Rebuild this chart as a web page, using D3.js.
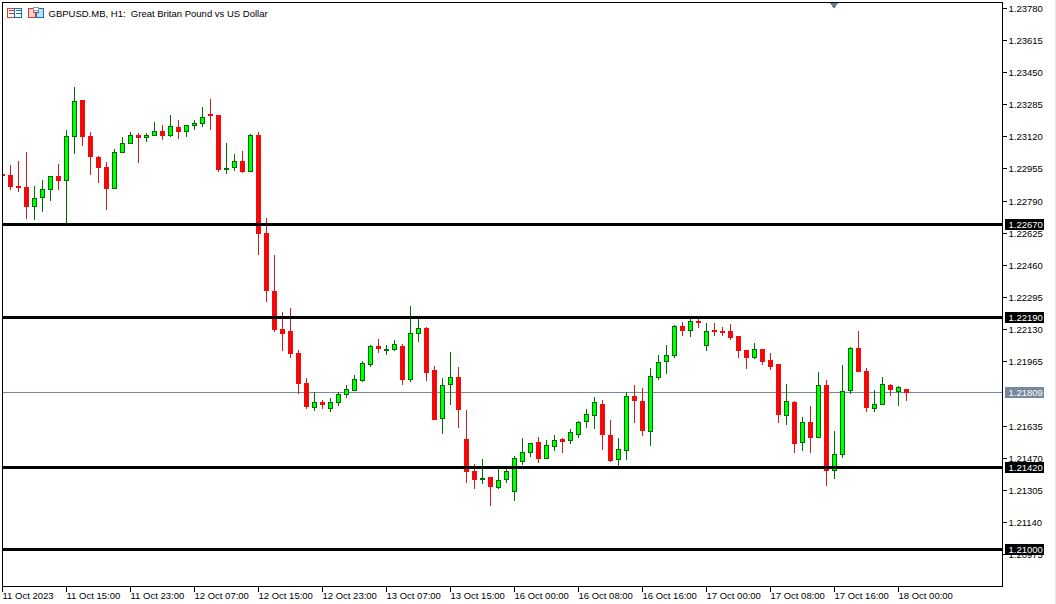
<!DOCTYPE html>
<html><head><meta charset="utf-8">
<script src="https://cdn.jsdelivr.net/npm/d3@7"></script>
<style>
html,body{margin:0;padding:0;background:#fff;overflow:hidden}
svg{display:block}
text{font-family:"Liberation Sans",Arial,sans-serif;font-size:9.5px;fill:#000;white-space:pre}
</style></head><body>
<svg id="c" width="1056" height="604"></svg>
<script>
const title = "GBPUSD.MB, H1:  Great Britan Pound vs US Dollar";
const opens = [1.22927,1.22923,1.22865,1.22861,1.22760,1.22806,1.22848,1.22916,1.22894,1.23120,1.23308,1.23123,1.23014,1.22962,1.22856,1.23037,1.23084,1.23128,1.23114,1.23127,
1.23147,1.23125,1.23168,1.23145,1.23178,1.23186,1.23234,1.23231,1.22950,1.22962,1.22993,1.22940,1.23127,1.22625,1.22328,1.22131,1.22121,1.22008,1.21854,1.21729,
1.21758,1.21724,1.21754,1.21795,1.21816,1.21871,1.21949,1.22045,1.22026,1.22026,1.22044,1.21872,1.22108,1.22138,1.21922,1.21672,1.21847,1.21885,1.21567,1.21402,
1.21359,1.21372,1.21318,1.21359,1.21298,1.21452,1.21498,1.21551,1.21467,1.21529,1.21567,1.21559,1.21590,1.21657,1.21688,1.21746,1.21587,1.21462,1.21508,1.21787,
1.21762,1.21606,1.21883,1.21965,1.21996,1.22146,1.22124,1.22172,1.22047,1.22126,1.22121,1.22121,1.22095,1.22023,1.21985,1.22028,1.21972,1.21951,1.21688,1.21756,
1.21549,1.21654,1.21575,1.21844,1.21405,1.21488,1.21816,1.22034,1.21916,1.21724,1.21744,1.21845,1.21811,1.21823];
const highs = [1.22928,1.22974,1.22995,1.23041,1.22866,1.22897,1.22918,1.22979,1.23154,1.23375,1.23308,1.23140,1.23020,1.22988,1.23056,1.23118,1.23144,1.23138,1.23138,1.23195,
1.23180,1.23231,1.23205,1.23178,1.23205,1.23272,1.23313,1.23231,1.23086,1.23031,1.23046,1.23132,1.23144,1.22702,1.22512,1.22220,1.22240,1.22025,1.21881,1.21806,
1.21768,1.21779,1.21806,1.21844,1.21897,1.21967,1.22051,1.22081,1.22051,1.22076,1.22054,1.22251,1.22189,1.22143,1.21943,1.21881,1.22015,1.21938,1.21717,1.21440,
1.21465,1.21372,1.21418,1.21419,1.21481,1.21573,1.21546,1.21578,1.21563,1.21589,1.21573,1.21619,1.21660,1.21722,1.21784,1.21768,1.21666,1.21573,1.21808,1.21845,
1.21830,1.21931,1.21999,1.22051,1.22153,1.22169,1.22189,1.22189,1.22163,1.22163,1.22143,1.22158,1.22095,1.22023,1.22061,1.22028,1.22009,1.21951,1.21850,1.21763,
1.21681,1.21737,1.21912,1.21871,1.21609,1.21948,1.22040,1.22122,1.21931,1.21820,1.21886,1.21850,1.21840,1.21823];
const lows = [1.22923,1.22846,1.22832,1.22697,1.22692,1.22729,1.22790,1.22846,1.22671,1.23031,1.23072,1.22923,1.22882,1.22743,1.22851,1.23037,1.23084,1.22985,1.23092,1.23127,
1.23099,1.23114,1.23104,1.23118,1.23150,1.23169,1.23150,1.22935,1.22924,1.22940,1.22930,1.22935,1.22512,1.22271,1.22114,1.22020,1.21984,1.21799,1.21722,1.21712,
1.21722,1.21707,1.21737,1.21779,1.21816,1.21861,1.21938,1.22009,1.21999,1.22016,1.21845,1.21861,1.22066,1.21866,1.21666,1.21594,1.21743,1.21625,1.21342,1.21312,
1.21337,1.21224,1.21312,1.21342,1.21250,1.21435,1.21476,1.21445,1.21467,1.21507,1.21496,1.21542,1.21573,1.21625,1.21619,1.21512,1.21450,1.21430,1.21460,1.21650,
1.21583,1.21532,1.21871,1.21902,1.21984,1.22097,1.22092,1.22138,1.22020,1.22097,1.22097,1.22076,1.21984,1.21927,1.21979,1.21948,1.21922,1.21650,1.21640,1.21496,
1.21507,1.21496,1.21575,1.21327,1.21363,1.21471,1.21799,1.21913,1.21707,1.21707,1.21744,1.21789,1.21737,1.21763];
const closes = [1.22924,1.22863,1.22863,1.22760,1.22803,1.22850,1.22916,1.22894,1.23122,1.23301,1.23120,1.23017,1.22960,1.22853,1.23039,1.23086,1.23127,1.23114,1.23127,1.23147,
1.23125,1.23173,1.23145,1.23178,1.23188,1.23219,1.23232,1.22950,1.22957,1.22993,1.22940,1.23127,1.22622,1.22329,1.22129,1.22112,1.22009,1.21852,1.21734,1.21756,
1.21744,1.21756,1.21798,1.21823,1.21874,1.21957,1.22044,1.22032,1.22028,1.22054,1.21872,1.22111,1.22136,1.21908,1.21671,1.21844,1.21885,1.21718,1.21400,1.21359,
1.21366,1.21323,1.21356,1.21402,1.21469,1.21500,1.21546,1.21467,1.21536,1.21561,1.21558,1.21602,1.21654,1.21695,1.21756,1.21594,1.21460,1.21515,1.21787,1.21765,
1.21611,1.21890,1.21962,1.21998,1.22146,1.22127,1.22172,1.22167,1.22121,1.22122,1.22114,1.22088,1.22021,1.21985,1.22028,1.21965,1.21939,1.21693,1.21762,1.21544,
1.21654,1.21575,1.21844,1.21405,1.21490,1.21813,1.22034,1.21913,1.21729,1.21746,1.21849,1.21825,1.21833,1.21809];
const priceTicks = [1.23780,1.23615,1.23450,1.23285,1.23120,1.22955,1.22790,1.22625,1.22460,1.22295,1.22130,1.21965,1.21635,1.21470,1.21305,1.21140,1.20975];
const levels = [1.22670,1.22190,1.21420,1.21000];
const lastPrice = 1.21809;
const timeLabels = ["11 Oct 2023","11 Oct 15:00","11 Oct 23:00","12 Oct 07:00","12 Oct 15:00","12 Oct 23:00","13 Oct 07:00","13 Oct 15:00","16 Oct 00:00","16 Oct 08:00","16 Oct 16:00","17 Oct 00:00","17 Oct 08:00","17 Oct 16:00","18 Oct 00:00"];
const timeTickEvery = 8;

const W = 1002, H = 586;
const svg = d3.select("#c").attr("shape-rendering","crispEdges");
const x = d3.scaleLinear().domain([0,113]).range([2.5,906.5]);
const yRaw = d3.scaleLinear().domain([1.23780,1.20975]).range([8,554.55]);
const y = v => Math.floor(yRaw(v)+0.15);

svg.append("clipPath").attr("id","plot").append("rect").attr("x",3).attr("y",3).attr("width",W-3).attr("height",H-3);
const plot = svg.append("g").attr("clip-path","url(#plot)");

// last price line (behind candles)
plot.append("line").attr("x1",3).attr("x2",W).attr("y1",y(lastPrice)+.5).attr("y2",y(lastPrice)+.5).attr("stroke","#778899");

const data = opens.map((o,i)=>({i,o,h:highs[i],l:lows[i],c:closes[i],up:closes[i]>opens[i]}));
const GREEN="#006e00", LIME="#00ff00", RED="#c81e1e", FILL="#f50808";
const cand = plot.selectAll("g.c").data(data).join("g").attr("class","c");
cand.append("line")
  .attr("x1",d=>x(d.i)).attr("x2",d=>x(d.i))
  .attr("y1",d=>y(d.h)).attr("y2",d=>y(d.l))
  .attr("stroke",d=>d.up?GREEN:RED);
cand.append("rect")
  .attr("x",d=>x(d.i)-2)
  .attr("width",4)
  .attr("y",d=>Math.min(y(d.o),y(d.c))+.5)
  .attr("height",d=>Math.max(1,Math.abs(y(d.o)-y(d.c))))
  .attr("fill",d=>d.up?LIME:FILL)
  .attr("stroke",d=>d.up?GREEN:"#ee0c0c");

// level lines
plot.selectAll("line.level").data(levels).join("line").attr("class","level")
  .attr("x1",3).attr("x2",W).attr("y1",d=>y(d)+.5).attr("y2",d=>y(d)+.5)
  .attr("stroke","#000").attr("stroke-width",3);

// frame
const frame = svg.append("g").attr("stroke","#000").attr("fill","none");
frame.append("path").attr("d",`M2.5 2.5H${W+.5}V${H+.5}H2.5Z`);

// right axis
const ra = svg.append("g");
ra.selectAll("line").data(priceTicks).join("line")
  .attr("x1",W+.5).attr("x2",W+5).attr("y1",d=>y(d)+.5).attr("y2",d=>y(d)+.5).attr("stroke","#000");
ra.selectAll("text").data(priceTicks).join("text")
  .attr("x",1008.5).attr("y",d=>y(d)+4).text(d=>d3.format(".5f")(d));

// bottom axis
const ba = svg.append("g");
ba.selectAll("line").data(timeLabels).join("line")
  .attr("x1",(d,i)=>x(i*timeTickEvery)).attr("x2",(d,i)=>x(i*timeTickEvery))
  .attr("y1",H+.5).attr("y2",H+6).attr("stroke","#000");
ba.selectAll("text").data(timeLabels).join("text")
  .attr("x",(d,i)=>x(i*timeTickEvery)).attr("y",599).text(d=>d);

// price boxes
const boxes = levels.map(v=>({v,bg:"#000"})).concat([{v:lastPrice,bg:"#778899"}]);
const bg = svg.append("g").selectAll("g").data(boxes).join("g");
bg.append("rect").attr("x",1005).attr("width",39).attr("y",d=>y(d.v)-5).attr("height",11).attr("fill",d=>d.bg);
bg.append("text").attr("x",1008.5).attr("y",d=>y(d.v)+4).style("fill","#fff").text(d=>d3.format(".5f")(d.v));

// title
svg.append("text").attr("x",48.5).attr("y",17).text(title);

// one-click marker triangle
svg.append("path").attr("d","M829.5 3H838.5L834 8.5Z").attr("fill","#708090");

// toolbar icons
const ic = svg.append("g");
ic.append("rect").attr("x",7.5).attr("y",8.5).attr("width",7).attr("height",9).attr("fill","#fff").attr("stroke","#e8382c");
ic.append("rect").attr("x",14.5).attr("y",8.5).attr("width",7).attr("height",9).attr("fill","#fff").attr("stroke","#1a6fb5");
[10.5,13.5].forEach(v=>{
  ic.append("line").attr("x1",9).attr("x2",14).attr("y1",v).attr("y2",v).attr("stroke","#e8382c");
  ic.append("line").attr("x1",16).attr("x2",21).attr("y1",v).attr("y2",v).attr("stroke","#1a6fb5");
});
ic.append("path").attr("d","M28.5 8.5H33.5V12.5H35.5V17.5H28.5Z").attr("fill","#fcd8d0").attr("stroke","#e8382c");
ic.append("path").attr("d","M36.5 17.5V12.5H38.5V8.5H43.5V17.5Z").attr("fill","#bfe0f5").attr("stroke","#1a6fb5");
ic.append("rect").attr("x",33.5).attr("y",7.5).attr("width",5).attr("height",3).attr("fill","#fff").attr("stroke","#999");

// right edge strip
svg.append("rect").attr("x",1055).attr("y",0).attr("width",1).attr("height",604).attr("fill","#e8e8e8");
</script>
</body></html>
